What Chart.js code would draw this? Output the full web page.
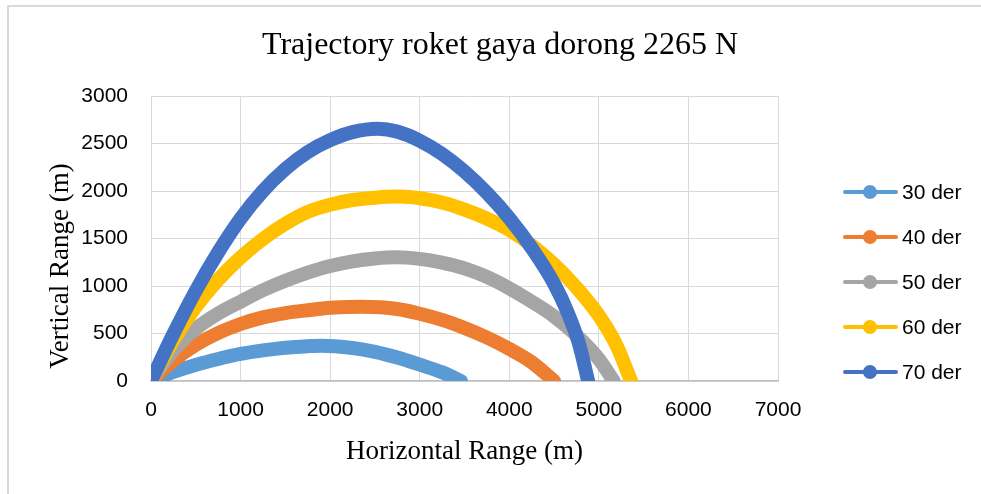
<!DOCTYPE html>
<html>
<head>
<meta charset="utf-8">
<title>Trajectory roket</title>
<script src="https://cdn.jsdelivr.net/npm/chart.js@4.4.0/dist/chart.umd.min.js"></script>
<style>
    html, body { margin: 0; padding: 0; background: #fff; }
    #wrap { width: 981px; height: 494px; position: relative; }
</style>
</head>
<body>
<div id="wrap"><canvas id="trajChart" width="981" height="494"></canvas></div>
<script>
// === DATA ===
const chartTitle = "Trajectory roket gaya dorong 2265 N";
const xTitle = "Horizontal Range (m)";
const yTitle = "Vertical Range (m)";
const seriesLabels = ["30 der", "40 der", "50 der", "60 der", "70 der"];
const seriesColors = ["#5B9BD5", "#ED7D31", "#A5A5A5", "#FFC000", "#4472C4"];

const x30 = [0, 250, 500, 750, 1000, 1250, 1500, 1750, 1900, 2250, 2500, 2750, 3000, 3250, 3460];
const y30 = [0, 95, 170, 232, 285, 322, 350, 366, 372, 347, 307, 247, 172, 92, 0];

const x40 = [0, 250, 500, 750, 1000, 1250, 1500, 1750, 2000, 2360, 2750, 3000, 3250, 3500, 3750, 4000, 4250, 4500];
const y40 = [0, 215, 380, 505, 600, 670, 715, 745, 770, 781, 758, 708, 643, 558, 458, 338, 198, 0];

const x50 = [0, 250, 500, 750, 1000, 1250, 1500, 1750, 2000, 2250, 2500, 2730, 3000, 3250, 3500, 3750, 4000, 4250, 4500, 4750, 5000, 5165];
const y50 = [0, 325, 550, 710, 835, 955, 1055, 1140, 1210, 1260, 1290, 1302, 1286, 1246, 1186, 1096, 976, 836, 681, 481, 231, 0];

const x60 = [0, 250, 500, 750, 1000, 1250, 1500, 1750, 2000, 2250, 2500, 2770, 3000, 3250, 3500, 3750, 4000, 4250, 4500, 4750, 5000, 5200, 5360];
const y60 = [0, 430, 780, 1065, 1300, 1495, 1655, 1780, 1855, 1905, 1930, 1941, 1924, 1879, 1804, 1709, 1589, 1429, 1229, 984, 689, 369, 0];

const x70 = [0, 250, 500, 750, 1000, 1250, 1500, 1750, 2000, 2250, 2530, 2750, 3000, 3250, 3500, 3750, 4000, 4250, 4500, 4650, 4780, 4880];
const y70 = [0, 495, 950, 1355, 1710, 2000, 2232, 2410, 2535, 2620, 2655, 2625, 2530, 2390, 2205, 1980, 1715, 1400, 1025, 725, 387, 0];

const xTicks = [0, 1000, 2000, 3000, 4000, 5000, 6000, 7000];
const yTicks = [0, 500, 1000, 1500, 2000, 2500, 3000];

const allX = [x30, x40, x50, x60, x70];
const allY = [y30, y40, y50, y60, y70];

function toPoints(xs, ys) {
    return xs.map((x, i) => ({ x: x, y: ys[i] }));
}

const serifFont = "'Liberation Serif', 'Times New Roman', serif";

// === PLUGIN: bingkai luar + judul + judul sumbu Y ===
const framePlugin = {
    id: "frame",
    beforeDraw(chart) {
        const ctx = chart.ctx;
        ctx.save();
        ctx.strokeStyle = "#d9d9d9";
        ctx.lineWidth = 2;
        ctx.beginPath();
        ctx.moveTo(8, 494);
        ctx.lineTo(8, 6);
        ctx.lineTo(981, 6);
        ctx.stroke();

        // judul di tengah seluruh gambar (bukan hanya area plot)
        ctx.fillStyle = "#000";
        ctx.font = "32px " + serifFont;
        ctx.textAlign = "center";
        ctx.textBaseline = "middle";
        ctx.fillText(chartTitle, 500, 46);

        // judul sumbu Y (posisinya agak turun seperti di Excel)
        ctx.font = "27px " + serifFont;
        ctx.translate(61, 266);
        ctx.rotate(-Math.PI / 2);
        ctx.fillText(yTitle, 0, 0);
        ctx.restore();
    }
};

// === PLUGIN: legend gaya Excel (garis + bulatan) ===
const legendPlugin = {
    id: "excelLegend",
    afterDraw(chart) {
        const ctx = chart.ctx;
        ctx.save();
        ctx.font = "21px 'Liberation Sans', Arial, sans-serif";
        ctx.textBaseline = "middle";
        seriesLabels.forEach((label, i) => {
            const y = 192 + i * 45;
            ctx.strokeStyle = seriesColors[i];
            ctx.lineWidth = 4;
            ctx.lineCap = "round";
            ctx.beginPath();
            ctx.moveTo(845, y);
            ctx.lineTo(896, y);
            ctx.stroke();
            ctx.fillStyle = seriesColors[i];
            ctx.beginPath();
            ctx.arc(870, y, 7, 0, Math.PI * 2);
            ctx.fill();
            ctx.fillStyle = "#000";
            ctx.fillText(label, 902, y + 1);
        });
        ctx.restore();
    }
};

const datasets = seriesLabels.map((label, i) => ({
    label: label,
    data: toPoints(allX[i], allY[i]),
    showLine: true,
    borderColor: seriesColors[i],
    backgroundColor: seriesColors[i],
    borderWidth: 14,
    borderCapStyle: "round",
    borderJoinStyle: "round",
    pointRadius: 0,
    cubicInterpolationMode: "monotone",
    order: seriesLabels.length - i, // seri terakhir digambar paling atas
}));

const tickFont = { family: "'Liberation Sans', Arial, sans-serif", size: 21 };

new Chart(document.getElementById("trajChart").getContext("2d"), {
    type: "scatter",
    data: { datasets: datasets },
    options: {
        responsive: false,
        animation: false,
        layout: { padding: { left: 0, right: 203, top: 96, bottom: 0 } },
        plugins: {
            legend: { display: false },
            tooltip: { enabled: false },
            title: { display: false },
        },
        scales: {
            x: {
                type: "linear",
                min: 0,
                max: 7000,
                afterBuildTicks: (scale) => { scale.ticks = xTicks.map((v) => ({ value: v })); },
                afterFit: (scale) => { scale.height = 113; },
                grid: { color: "#d9d9d9", lineWidth: 1, drawTicks: false },
                border: { display: true, color: "#bfbfbf", width: 1.5 },
                ticks: { color: "#000", font: tickFont, padding: 17, callback: (v) => String(v) },
                title: {
                    display: true,
                    text: xTitle,
                    color: "#000",
                    font: { family: serifFont, size: 27 },
                    padding: { top: 0, bottom: 26 },
                },
            },
            y: {
                type: "linear",
                min: 0,
                max: 3000,
                afterBuildTicks: (scale) => { scale.ticks = yTicks.map((v) => ({ value: v })); },
                afterFit: (scale) => { scale.width = 151; },
                grid: { color: "#d9d9d9", lineWidth: 1, drawTicks: false },
                border: { display: false },
                ticks: { color: "#000", font: tickFont, padding: 23, callback: (v) => String(v) },
                title: { display: false },
            },
        },
    },
    plugins: [framePlugin, legendPlugin],
});
</script>
</body>
</html>
